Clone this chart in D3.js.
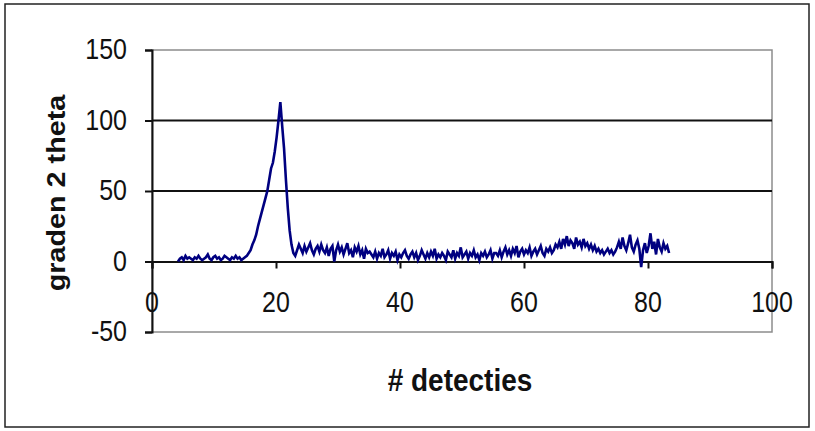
<!DOCTYPE html>
<html>
<head>
<meta charset="utf-8">
<script src="https://cdn.jsdelivr.net/npm/d3@7"></script>
<style>
  body { margin: 0; background: #fff; }
  svg { display: block; font-family: Arial, "Liberation Sans", sans-serif; }
</style>
</head>
<body>
<svg id="chart" width="815" height="431"></svg>
<script>
// meetreeks: detectie start bij 4.2, stap 0.3
const xStart = 4.2;
const xStep = 0.3;

const counts = [
  // 4.2 - 15.0
  0,2,3,1,4,2,3,2,1,3,2,4,2,1,2,3,5,2,1,3,4,2,3,1,2,4,3,2,1,3,2,4,2,3,1,2,3,
  // piek 15.3 - 23.1
  4,6,8,12,15,19,25,30,35,40,45,50,58,66,70,78,88,100,113,96,80,58,38,22,12,6,4,
  // 23.4 - 35.1
  8,12,9,6,11,7,10,13,8,5,9,11,7,12,8,6,10,4,9,11,0,8,12,7,10,5,9,13,6,8,3,10,7,11,5,8,2,9,6,7,
  // 35.4 - 55.2
  5,3,7,2,6,4,9,3,5,8,2,6,4,7,1,5,3,6,8,4,2,5,7,3,6,1,4,8,5,2,6,3,7,4,9,2,5,3,6,4,
  1,7,5,3,8,2,6,4,10,3,5,7,2,6,4,8,3,5,1,6,4,7,3,5,8,2,6,
  // 55.5 - 65.1
  6,4,8,3,7,10,5,8,4,9,6,11,3,7,9,5,8,6,10,4,7,9,5,8,11,6,4,9,7,10,6,8,12,
  // 65.4 - 72.0
  10,14,9,16,12,18,11,15,13,9,17,12,14,10,16,11,13,9,12,8,11,7,9,
  // 72.3 - 75.0
  6,8,5,7,9,6,8,5,7,10,
  // 75.3 - 83.4
  14,9,17,11,8,13,19,10,7,12,15,9,-4,8,13,6,11,20,9,14,5,16,10,7,13,9,11,6
];

const xTicks = [0, 20, 40, 60, 80, 100];
const yTicks = [-50, 0, 50, 100, 150];
const yGrid = [50, 100];

const xTitle = "# detecties";
const yTitle = "graden 2 theta";

const svg = d3.select("#chart");

// buitenrand
svg.append("rect")
  .attr("x", 5).attr("y", 4)
  .attr("width", 804).attr("height", 423)
  .attr("fill", "none")
  .attr("stroke", "#222")
  .attr("stroke-width", 1.5);

const plot = { left: 152, right: 772, top: 50, bottom: 332 };

const x = d3.scaleLinear().domain([0, 100]).range([plot.left, plot.right]);
const y = d3.scaleLinear().domain([-50, 150]).range([plot.bottom, plot.top]);

// plotkader
svg.append("rect")
  .attr("x", plot.left).attr("y", plot.top)
  .attr("width", plot.right - plot.left).attr("height", plot.bottom - plot.top)
  .attr("fill", "none")
  .attr("stroke", "#8c8c8c")
  .attr("stroke-width", 1.5);

// rasterlijnen
svg.append("g")
  .selectAll("line")
  .data(yGrid)
  .join("line")
  .attr("x1", plot.left).attr("x2", plot.right)
  .attr("y1", d => y(d)).attr("y2", d => y(d))
  .attr("stroke", "#111")
  .attr("stroke-width", 2);

// x-as op y = 0
const xAxis = svg.append("g")
  .attr("transform", `translate(0,${y(0)})`)
  .call(d3.axisBottom(x).tickValues(xTicks).tickSize(7).tickFormat(""));
xAxis.select(".domain").attr("stroke", "#111").attr("stroke-width", 2);
xAxis.selectAll(".tick line").attr("stroke", "#111").attr("stroke-width", 2);

// y-as
const yAxis = svg.append("g")
  .attr("transform", `translate(${plot.left},0)`)
  .call(d3.axisLeft(y).tickValues(yTicks).tickSize(7).tickFormat(""));
yAxis.select(".domain").attr("stroke", "#111").attr("stroke-width", 2);
yAxis.selectAll(".tick line").attr("stroke", "#111").attr("stroke-width", 2);

// y-labels
svg.append("g")
  .selectAll("text")
  .data(yTicks)
  .join("text")
  .attr("transform", d => `translate(127,${y(d) + 9}) scale(1,1.17)`)
  .attr("text-anchor", "end")
  .attr("font-size", 25)
  .attr("fill", "#111")
  .text(d => d);

// x-labels (laag, onder de nul-as)
svg.append("g")
  .selectAll("text")
  .data(xTicks)
  .join("text")
  .attr("transform", d => `translate(${x(d)},312) scale(1,1.17)`)
  .attr("text-anchor", "middle")
  .attr("font-size", 25)
  .attr("fill", "#111")
  .text(d => d);

// lijn
const data = counts.map((c, i) => ({ det: xStart + i * xStep, val: c }));

svg.append("path")
  .datum(data)
  .attr("fill", "none")
  .attr("stroke", "#000080")
  .attr("stroke-width", 2.6)
  .attr("stroke-linejoin", "miter")
  .attr("d", d3.line().x(d => x(d.det)).y(d => y(d.val)));

// titels
svg.append("text")
  .attr("transform", "translate(460,391) scale(1,1.1)")
  .attr("text-anchor", "middle")
  .attr("font-size", 28)
  .attr("font-weight", "bold")
  .attr("fill", "#111")
  .text(xTitle);

svg.append("text")
  .attr("transform", "translate(65,193) rotate(-90) scale(1.15,1)")
  .attr("text-anchor", "middle")
  .attr("font-size", 25)
  .attr("font-weight", "bold")
  .attr("fill", "#111")
  .text(yTitle);
</script>
</body>
</html>
